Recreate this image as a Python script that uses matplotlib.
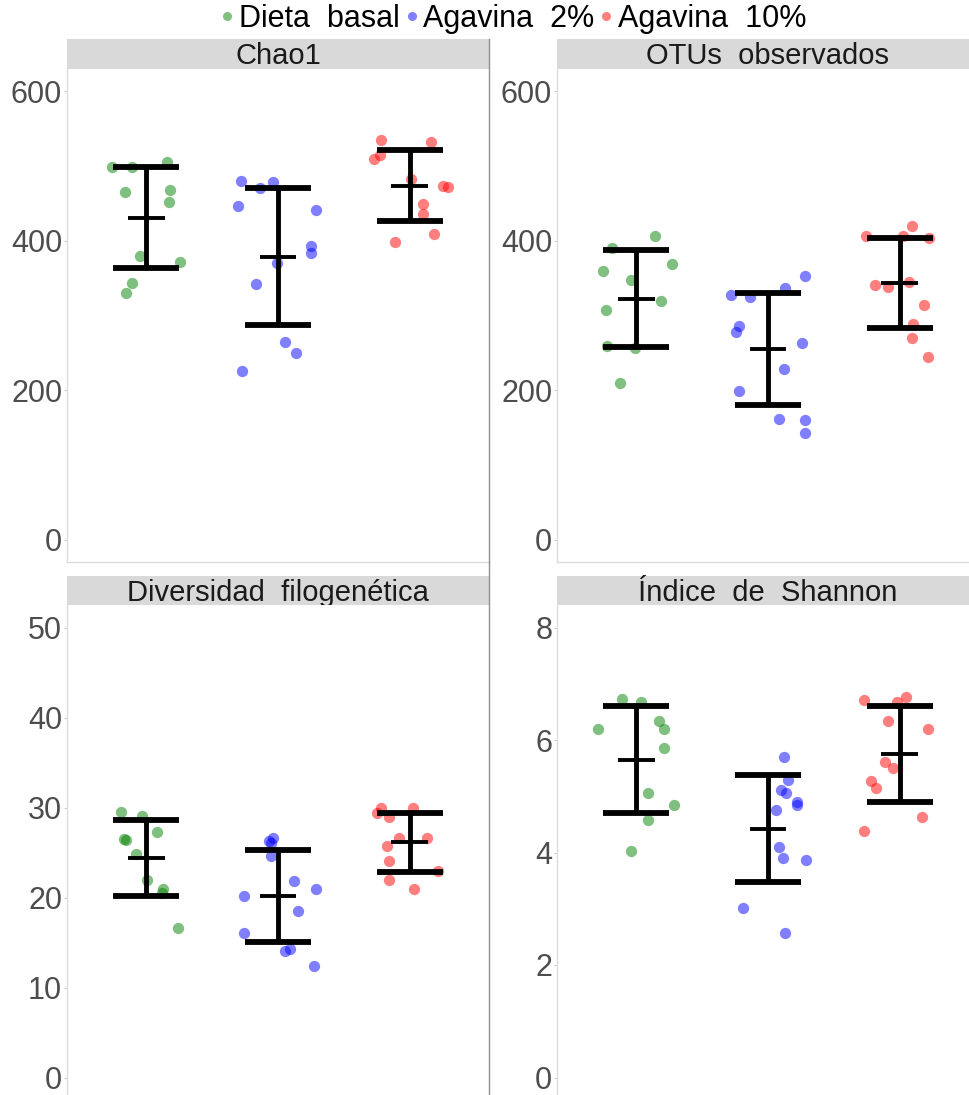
import matplotlib
matplotlib.use("Agg")
import matplotlib.pyplot as plt
from matplotlib.lines import Line2D
import numpy as np

plt.rcParams["font.family"] = ["Liberation Sans", "DejaVu Sans"]

W, H = 970, 1095

groups = ["Dieta  basal", "Agavina  2%", "Agavina  10%"]
group_colors = ["green", "blue", "red"]
panel_titles = ["Chao1", "OTUs  observados", "Diversidad  filogenética", "Índice  de  Shannon"]
panel_ticks = [[0, 200, 400, 600], [0, 200, 400, 600], [0, 10, 20, 30, 40, 50], [0, 2, 4, 6, 8]]

# alpha diversity per sample (basal n=10, agavina 2% n=12, agavina 10% n=11)
chao1_basal = [498.2, 498.6, 504.9, 466.0, 467.4, 451.3, 380.2, 372.2, 343.1, 329.7]
chao1_ag2 = [479.4, 470.5, 478.1, 447.2, 441.4, 393.6, 384.2, 370.0, 342.2, 265.0, 249.3, 226.1]
chao1_ag10 = [535.3, 531.7, 515.2, 509.8, 483.0, 474.0, 471.4, 449.0, 435.6, 409.3, 399.0]

otus_basal = [406.7, 391.0, 368.8, 359.9, 347.4, 319.8, 307.3, 259.7, 256.1, 209.3]
otus_ag2 = [352.3, 327.4, 324.3, 336.3, 285.5, 278.4, 262.8, 228.5, 198.7, 161.7, 159.5, 143.0]
otus_ag10 = [420.0, 406.7, 406.7, 403.5, 340.7, 337.6, 344.3, 314.0, 288.6, 269.9, 244.1]

pd_basal = [29.5, 29.1, 27.3, 26.5, 26.4, 24.8, 21.9, 20.9, 20.5, 16.6]
pd_ag2 = [26.6, 26.3, 26.1, 24.6, 21.8, 20.9, 20.2, 18.5, 16.1, 14.1, 14.3, 12.4]
pd_ag10 = [30.0, 29.4, 29.0, 29.9, 26.6, 26.6, 25.7, 24.1, 23.0, 22.0, 21.0]

shannon_basal = [6.73, 6.68, 6.19, 6.34, 6.19, 5.86, 5.05, 4.85, 4.57, 4.03]
shannon_ag2 = [5.70, 5.29, 5.12, 5.05, 4.90, 4.84, 4.76, 4.09, 3.91, 3.86, 3.02, 2.57]
shannon_ag10 = [6.71, 6.68, 6.77, 6.34, 6.19, 5.61, 5.51, 5.28, 5.15, 4.64, 4.38]

# horizontal jitter of each point around its group
jit_chao1 = [
    [-0.26, -0.11, 0.16, -0.16, 0.18, 0.17, -0.05, 0.26, -0.11, -0.15],
    [-0.28, -0.14, -0.04, -0.30, 0.29, 0.25, 0.25, -0.01, -0.17, 0.05, 0.14, -0.27],
    [-0.22, 0.16, -0.23, -0.27, 0.01, 0.25, 0.29, 0.10, 0.10, 0.18, -0.11],
]
jit_otus = [
    [0.14, -0.18, 0.27, -0.25, -0.04, 0.19, -0.23, -0.22, -0.01, -0.12],
    [0.28, -0.28, -0.14, 0.13, -0.22, -0.24, 0.26, 0.12, -0.22, 0.08, 0.28, 0.28],
    [0.09, -0.26, 0.02, 0.22, -0.19, -0.09, 0.07, 0.18, 0.10, 0.09, 0.21],
]
jit_pd = [
    [-0.19, -0.03, 0.08, -0.17, -0.15, -0.08, 0.01, 0.13, 0.12, 0.24],
    [-0.04, -0.07, -0.05, -0.05, 0.12, 0.29, -0.26, 0.15, -0.26, 0.05, 0.09, 0.27],
    [-0.22, -0.25, -0.16, 0.02, -0.08, 0.13, -0.17, -0.16, 0.21, -0.16, 0.03],
]
jit_shannon = [
    [-0.11, 0.04, -0.29, 0.17, 0.21, 0.21, 0.09, 0.29, 0.09, -0.04],
    [0.12, 0.15, 0.10, 0.14, 0.22, 0.22, 0.06, 0.08, 0.11, 0.29, -0.19, 0.13],
    [-0.27, -0.02, 0.05, -0.09, 0.21, -0.11, -0.05, -0.22, -0.18, 0.17, -0.27],
]

panel_data = [
    [chao1_basal, chao1_ag2, chao1_ag10],
    [otus_basal, otus_ag2, otus_ag10],
    [pd_basal, pd_ag2, pd_ag10],
    [shannon_basal, shannon_ag2, shannon_ag10],
]
panel_jitter = [jit_chao1, jit_otus, jit_pd, jit_shannon]


def box(x0, y0, x1, y1):
    # pixel box (top-left origin) -> figure fraction rect
    return [x0 / W, 1 - y1 / H, (x1 - x0) / W, (y1 - y0) / H]


fig = plt.figure(figsize=(W / 100, H / 100), dpi=100)

cols = [(67, 489), (557, 979)]
rows = [(39, 69, 562), (576, 605, 1100)]

for k, (title, series, jitter, ticks) in enumerate(zip(panel_titles, panel_data, panel_jitter, panel_ticks)):
    x0, x1 = cols[k % 2]
    s0, s1, yb = rows[k // 2]

    strip = fig.add_axes(box(x0, s0, x1, s1))
    strip.set_facecolor("#d9d9d9")
    strip.set_xticks([])
    strip.set_yticks([])
    for sp in strip.spines.values():
        sp.set_visible(False)
    strip.text(0.5, 0.42, title, ha="center", va="center", fontsize=21, color="#1a1a1a",
               transform=strip.transAxes)

    ax = fig.add_axes(box(x0, s1, x1, yb))
    for i, (vals, offs, color) in enumerate(zip(series, jitter, group_colors)):
        vals = np.asarray(vals)
        xs = i + 1 + np.asarray(offs)
        ax.scatter(xs, vals, s=66, color=color, alpha=0.5, linewidths=0, zorder=2)
        mean = vals.mean()
        sd = vals.std(ddof=1)
        ax.vlines(i + 1, mean - sd, mean + sd, color="black", lw=3.5, zorder=3)
        ax.hlines([mean - sd, mean + sd], i + 0.75, i + 1.25, color="black", lw=4.2, zorder=3)
        ax.hlines(mean, i + 0.86, i + 1.14, color="black", lw=2.8, zorder=3)

    top = ticks[-1]
    ax.set_xlim(0.4, 3.6)
    ax.set_ylim(-0.05 * top, 1.05 * top)
    ax.set_xticks([])
    ax.set_yticks(ticks)
    ax.tick_params(axis="y", labelsize=22, labelcolor="#4d4d4d", color="#cfcfcf",
                   length=2.5, width=0.8, pad=1)
    ax.spines["top"].set_visible(False)
    ax.spines["right"].set_visible(False)
    for side in ("left", "bottom"):
        ax.spines[side].set_color("#dcdcdc")
        ax.spines[side].set_linewidth(1.0)

# divider between the two columns
fig.add_artist(Line2D([489 / W, 489 / W], [1 - 39 / H, 0], color="#8f8f8f", lw=1.0))

handles = [Line2D([], [], marker="o", ls="", ms=6.5, color=c, alpha=0.5, mec="none")
           for c in group_colors]
fig.legend(handles, groups, loc="upper center", bbox_to_anchor=(513 / W, 1 - 4 / H), ncol=3,
           frameon=False, fontsize=22, handlelength=0.5, handletextpad=0.12,
           columnspacing=0.15, borderpad=0.0, borderaxespad=0.0)

fig.savefig("out.png", dpi=100, facecolor="white")
